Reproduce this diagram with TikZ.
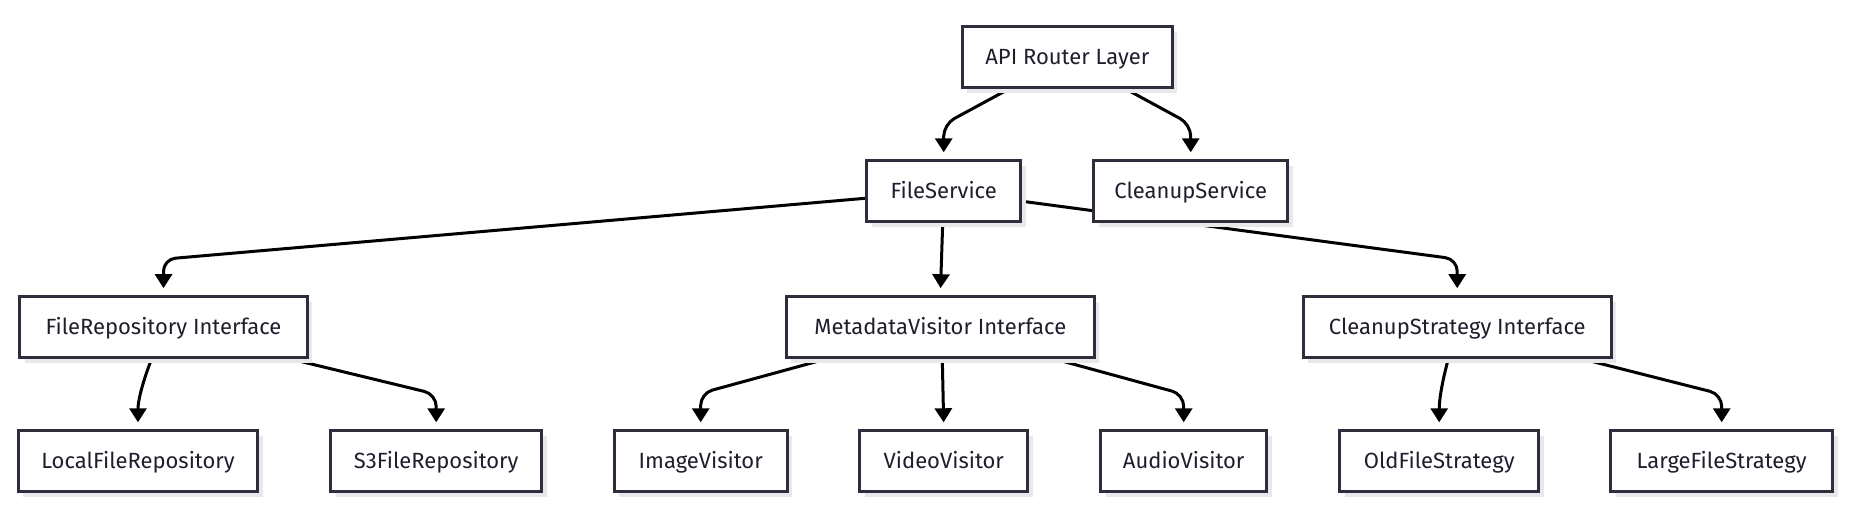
\documentclass[tikz,border=0pt]{standalone}
\usepackage{fontspec}
\setmainfont{Fira Sans}
\usetikzlibrary{arrows.meta,shadows,calc}
\definecolor{boxborder}{RGB}{45,45,60}
\definecolor{textcol}{RGB}{30,30,45}
\definecolor{shadowcol}{RGB}{232,232,236}
\pgfdeclarelayer{back}
\pgfdeclarelayer{bg}
\pgfsetlayers{back,bg,main}
\begin{document}
\begin{tikzpicture}[x=1pt,y=-1pt,
  nbox/.style={draw=boxborder, line width=3pt, fill=white, minimum height=61pt, inner sep=0pt,
    text=textcol, font=\fontsize{22}{26}\selectfont, text height=15.2pt, text depth=0pt,
    drop shadow={shadow xshift=5pt,shadow yshift=-5pt,fill=shadowcol,opacity=1}},
  conn/.style={draw=black, line width=3pt, -{Triangle[width=17pt,length=14pt]},
    shorten >=7pt, rounded corners=12pt}]
\begin{pgfonlayer}{back}
\fill[white] (0,0) rectangle (1854,514);
\end{pgfonlayer}
\useasboundingbox (0,0) rectangle (1854,514);
\node[nbox, minimum width=210.3pt] (api) at (1067.3,57.3) {API Router Layer};
\node[nbox, minimum width=154.3pt] (fs) at (943.7,191.3) {FileService};
\node[nbox, minimum width=194.3pt] (cs) at (1190.7,191.3) {CleanupService};
\node[nbox, minimum width=287.4pt] (fri) at (163.5,327.2) {FileRepository Interface};
\node[nbox, minimum width=307.7pt] (mvi) at (940.3,327.2) {MetadataVisitor Interface};
\node[nbox, minimum width=308pt] (csi) at (1457.2,327.2) {CleanupStrategy Interface};
\node[nbox, minimum width=239.6pt] (local) at (138,461.3) {LocalFileRepository};
\node[nbox, minimum width=211.4pt] (s3) at (436.2,461.3) {S3FileRepository};
\node[nbox, minimum width=173pt] (img) at (700.7,461.3) {ImageVisitor};
\node[nbox, minimum width=168pt] (vid) at (943.8,461.3) {VideoVisitor};
\node[nbox, minimum width=166.3pt] (aud) at (1183.7,461.3) {AudioVisitor};
\node[nbox, minimum width=198.7pt] (old) at (1439.2,461.3) {OldFileStrategy};
\node[nbox, minimum width=221.7pt] (large) at (1721.7,461.3) {LargeFileStrategy};
\begin{pgfonlayer}{bg}
\draw[conn] ([xshift=-59pt]api.south) -- ([yshift=35pt]fs.north) -- (fs.north);
\draw[conn] ([xshift=59pt]api.south) -- ([yshift=35pt]cs.north) -- (cs.north);
\draw[conn] ([yshift=-7pt]fs.west) -- ([yshift=36pt]fri.north) -- (fri.north);
\draw[conn] ([xshift=-1pt]fs.south) -- (mvi.north);
\draw[conn] ([yshift=-10pt]fs.east) -- ([yshift=36pt]csi.north) -- (csi.north);
\draw[conn] ([xshift=-12pt]fri.south) to[out=-111,in=90] (local.north);
\draw[conn] ([xshift=128pt]fri.south) -- ([yshift=35pt]s3.north) -- (s3.north);
\draw[conn] ([xshift=-115pt]mvi.south) -- ([yshift=36pt]img.north) -- (img.north);
\draw[conn] ([xshift=2pt]mvi.south) -- (vid.north);
\draw[conn] ([xshift=115pt]mvi.south) -- ([yshift=35pt]aud.north) -- (aud.north);
\draw[conn] ([xshift=-9pt]csi.south) to[out=-105,in=90] (old.north);
\draw[conn] ([xshift=126pt]csi.south) -- ([yshift=35pt]large.north) -- (large.north);
\end{pgfonlayer}
\end{tikzpicture}
\end{document}
